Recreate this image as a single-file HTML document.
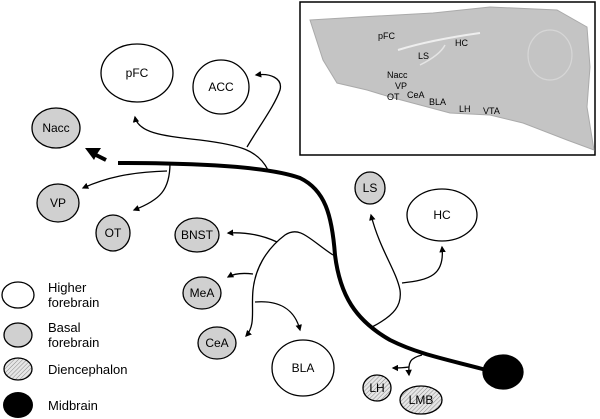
<!DOCTYPE html>
<html><head><meta charset="utf-8"><style>
html,body{margin:0;padding:0;background:#fff}
svg{display:block;font-family:"Liberation Sans",Arial,sans-serif}
</style></head><body>
<svg width="600" height="419" viewBox="0 0 600 419">
<defs>
<pattern id="hatch" width="3" height="3" patternUnits="userSpaceOnUse" patternTransform="rotate(45)">
<rect width="3" height="3" fill="#e6e6e6"/><line x1="0" y1="0" x2="0" y2="3" stroke="#888" stroke-width="1"/>
</pattern>
<marker id="ah" viewBox="0 0 10 10" refX="8" refY="5" markerWidth="5" markerHeight="5" orient="auto"><path d="M0,0 L10,5 L0,10 z" fill="#000"/></marker>
</defs>

<!-- inset -->
<g>
<rect x="300" y="2" width="295" height="153" fill="#fff" stroke="#000" stroke-width="1.5"/>
<path d="M310,20 L360,17 L433,13 L490,7 L557,10 L587,27 L590,67 L587,107 L594,150 L567,140 L523,123 L490,115 L450,113 L390,97 L367,90 L337,83 L323,60 Z" fill="#c4c4c4" stroke="#aaa"/>
<path d="M398,50 Q430,40 480,33" stroke="#eee" stroke-width="2" fill="none"/>
<path d="M420,65 Q440,55 445,45" stroke="#e4e4e4" stroke-width="1.5" fill="none"/>
<ellipse cx="550" cy="55" rx="22" ry="25" fill="none" stroke="#d6d6d6" stroke-width="1.2"/>
<g font-size="9" fill="#000">
<text x="378" y="39">pFC</text>
<text x="455" y="46">HC</text>
<text x="418" y="59">LS</text>
<text x="387" y="78">Nacc</text>
<text x="395" y="89">VP</text>
<text x="387" y="100">OT</text>
<text x="407" y="98">CeA</text>
<text x="429" y="105">BLA</text>
<text x="459" y="112">LH</text>
<text x="483" y="114">VTA</text>
</g>
</g>

<!-- main pathway -->
<path d="M490,371 C450,360 420,355 390,340 C355,320 340,295 335,255 C332,215 325,190 300,178 C270,167 200,163 118,163" fill="none" stroke="#000" stroke-width="4"/>
<g>
<path d="M106,160 L96,155" stroke="#000" stroke-width="4" fill="none"/>
<path d="M85,148 L101,148 L97,154 L94,160 Z" fill="#000"/>
</g>

<g fill="none" stroke="#000" stroke-width="1.3">
<path d="M268,170 C258,150 240,145 200,140 C160,136 138,132 135,117" marker-end="url(#ah)"/>
<path d="M247,147 C260,125 275,105 280,90 C283,78 270,73 256,75" marker-end="url(#ah)"/>
<path d="M170,163 C170,190 160,200 134,210" marker-end="url(#ah)"/>
<path d="M167,171 C130,172 105,178 83,188" marker-end="url(#ah)"/>
<path d="M333,255 C310,240 300,225 285,235 C265,250 255,270 253,290 C251,310 256,325 246,336" marker-end="url(#ah)"/>
<path d="M277,242 C262,235 245,232 228,233" marker-end="url(#ah)"/>
<path d="M253,274 C245,273 235,273 228,277" marker-end="url(#ah)"/>
<path d="M255,302 C280,300 295,310 300,330" marker-end="url(#ah)"/>
<path d="M372,327 C395,315 402,305 400,290 C396,270 380,250 371,215" marker-end="url(#ah)"/>
<path d="M402,283 C430,280 445,275 442,247" marker-end="url(#ah)"/>
<path d="M422,355 C410,358 408,362 409,375" marker-end="url(#ah)"/>
<path d="M409,367 C402,368 398,368 393,368" marker-end="url(#ah)"/>
</g>

<g stroke="#000" stroke-width="1.3" font-size="12" text-anchor="middle">
<g><ellipse cx="137" cy="73" rx="36" ry="29" fill="#fff"/><text x="137" y="77" stroke="none">pFC</text></g>
<g><ellipse cx="221" cy="87" rx="28" ry="27" fill="#fff"/><text x="221" y="91" stroke="none">ACC</text></g>
<g><ellipse cx="56" cy="128" rx="24" ry="20" fill="#d0d0d0"/><text x="56" y="132" stroke="none">Nacc</text></g>
<g><ellipse cx="58" cy="203" rx="21" ry="19" fill="#d0d0d0"/><text x="58" y="207" stroke="none">VP</text></g>
<g><ellipse cx="113" cy="233" rx="17" ry="18" fill="#d0d0d0"/><text x="113" y="237" stroke="none">OT</text></g>
<g><ellipse cx="197" cy="235" rx="22" ry="17" fill="#d0d0d0"/><text x="197" y="239" stroke="none">BNST</text></g>
<g><ellipse cx="202" cy="293" rx="19" ry="16" fill="#d0d0d0"/><text x="202" y="297" stroke="none">MeA</text></g>
<g><ellipse cx="217" cy="343" rx="19" ry="16" fill="#d0d0d0"/><text x="217" y="347" stroke="none">CeA</text></g>
<g><ellipse cx="303" cy="368" rx="31" ry="28" fill="#fff"/><text x="303" y="372" stroke="none">BLA</text></g>
<g><ellipse cx="370" cy="188" rx="15" ry="16" fill="#d0d0d0"/><text x="370" y="192" stroke="none">LS</text></g>
<g><ellipse cx="442" cy="215" rx="35" ry="26" fill="#fff"/><text x="442" y="219" stroke="none">HC</text></g>
<g><ellipse cx="377" cy="388" rx="14" ry="13" fill="url(#hatch)"/><text x="377" y="392" stroke="none">LH</text></g>
<g><ellipse cx="421" cy="400" rx="21" ry="14" fill="url(#hatch)"/><text x="421" y="404" stroke="none">LMB</text></g>
<g><ellipse cx="503" cy="372" rx="20" ry="17" fill="#000"/></g>
</g>

<!-- legend -->
<g font-size="13" stroke-width="1.3">
<g><ellipse cx="18" cy="295" rx="16" ry="13" fill="#fff" stroke="#000"/><text x="48" y="292">Higher</text><text x="48" y="307">forebrain</text></g>
<g><ellipse cx="18" cy="335" rx="14" ry="12" fill="#d0d0d0" stroke="#000"/><text x="48" y="332">Basal</text><text x="48" y="347">forebrain</text></g>
<g><ellipse cx="18" cy="369" rx="14" ry="11" fill="url(#hatch)" stroke="#000"/><text x="48" y="374">Diencephalon</text></g>
<g><ellipse cx="18" cy="405" rx="15" ry="13" fill="#000"/><text x="48" y="410">Midbrain</text></g>
</g>
</svg>
</body></html>
